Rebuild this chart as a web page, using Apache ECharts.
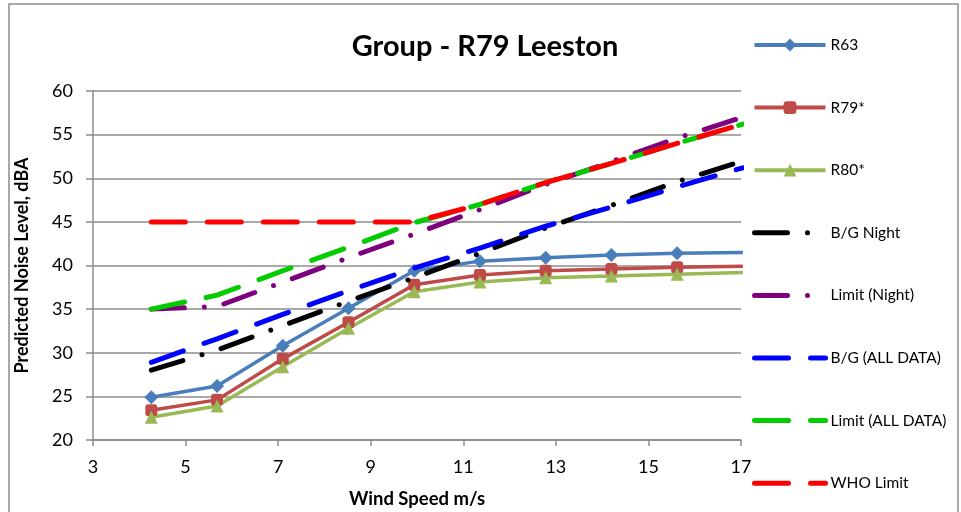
<!DOCTYPE html>
<html>
<head>
<meta charset="utf-8">
<script src="https://cdn.jsdelivr.net/npm/echarts@6/dist/echarts.min.js"></script>
<style>html,body{margin:0;padding:0;background:#fff}#c{width:961px;height:512px}</style>
</head>
<body>
<div id="c"></div>
<script>
var windSpeed = [4.26, 5.68, 7.1, 8.52, 9.94, 11.36, 12.78, 14.2, 15.62, 17.04];
var r63 = [24.9, 26.2, 30.8, 35.1, 39.4, 40.5, 40.9, 41.2, 41.4, 41.5];
var r79 = [23.4, 24.6, 29.3, 33.5, 37.8, 38.9, 39.4, 39.6, 39.8, 39.9];
var r80 = [22.6, 23.9, 28.4, 32.8, 37.0, 38.1, 38.6, 38.8, 39.0, 39.2];
var bgNight = [28.0, 30.3, 33.1, 35.9, 38.6, 41.4, 44.3, 46.9, 49.6, 52.0];
var limitNight = [35.0, 35.3, 38.1, 40.9, 43.6, 46.4, 49.3, 51.9, 54.6, 57.0];
var bgAll = [28.9, 31.6, 34.4, 37.1, 39.7, 42.0, 44.5, 46.7, 49.0, 51.2];
var limitAll = [35.0, 36.6, 39.4, 42.1, 44.9, 47.0, 49.5, 51.7, 54.0, 56.2];
var whoLimit = [45, 45, 45, 45, 45, 47.0, 49.5, 51.7, 54.0, 56.2];
var xTicks = [3, 5, 7, 9, 11, 13, 15, 17];
var yTicks = [20, 25, 30, 35, 40, 45, 50, 55, 60];
var seriesNames = ['R63', 'R79*', 'R80*', 'B/G Night', 'Limit (Night)', 'B/G (ALL DATA)', 'Limit (ALL DATA)', 'WHO Limit'];

function pts(ys) { return windSpeed.map(function (x, i) { return [x, ys[i]]; }); }

var FONT = 'Lato';
var dashLong = [34, 22];
var dashDot = [33, 20, 0.01, 20];

function markerSeries(name, data, color, symbol, size) {
  return {
    name: name, type: 'line', data: pts(data), symbol: symbol, symbolSize: size,
    showAllSymbol: true,
    lineStyle: { color: color, width: 3.5 }, itemStyle: { color: color },
    emphasis: { disabled: true }, z: 2
  };
}
function dashSeries(name, data, color, dash) {
  return {
    name: name, type: 'line', data: pts(data), symbol: 'none',
    lineStyle: { color: color, width: 5, type: dash, cap: 'round' },
    itemStyle: { color: color },
    emphasis: { disabled: true }, z: 3
  };
}

var legendData = seriesNames.map(function (n, i) {
  if (i < 3) return { name: n, lineStyle: { width: 4 } };
  return { name: n, itemStyle: { opacity: 0 }, lineStyle: { width: 5 } };
});

var chart = echarts.init(document.getElementById('c'), null, { renderer: 'canvas' });
chart.setOption({
  animation: false,
  backgroundColor: '#fff',
  title: {
    text: 'Group - R79 Leeston', left: 480, top: 27, textAlign: 'center',
    textStyle: { fontFamily: FONT, fontSize: 29, fontWeight: 'bold', color: '#000' }
  },
  graphic: [{
    type: 'rect', shape: { x: 9, y: 4, width: 949, height: 530 },
    style: { fill: 'none', stroke: '#8c8c8c', lineWidth: 1.5 }, silent: true
  }],
  legend: {
    orient: 'vertical', left: 752, top: 37, padding: 0,
    itemWidth: 71, itemHeight: 16, itemGap: 46.6,
    textStyle: { fontFamily: FONT, fontSize: 15.5, color: '#000' },
    data: legendData
  },
  grid: { left: 93, right: 220, top: 91, bottom: 72, containLabel: false, outerBoundsMode: 'none' },
  xAxis: {
    type: 'value', min: xTicks[0], max: xTicks[xTicks.length - 1], interval: 2,
    name: 'Wind Speed m/s', nameLocation: 'middle', nameGap: 50,
    nameTextStyle: { fontFamily: FONT, fontSize: 18.5, fontWeight: 'bold', color: '#000' },
    axisLine: { lineStyle: { color: '#8c8c8c', width: 1.5 } },
    axisTick: { show: true, length: 6, lineStyle: { color: '#8c8c8c', width: 1.5 } },
    axisLabel: { fontFamily: FONT, fontSize: 18, color: '#000', margin: 18 },
    splitLine: { show: false }
  },
  yAxis: {
    type: 'value', min: yTicks[0], max: yTicks[yTicks.length - 1], interval: 5,
    name: 'Predicted Noise Level, dBA', nameLocation: 'middle', nameGap: 62,
    nameTextStyle: { fontFamily: FONT, fontSize: 18, fontWeight: 'bold', color: '#000' },
    axisLine: { show: true, lineStyle: { color: '#8c8c8c', width: 1.5 } },
    axisTick: { show: true, length: 7, lineStyle: { color: '#8c8c8c', width: 1.5 } },
    axisLabel: { fontFamily: FONT, fontSize: 18, color: '#000', margin: 20 },
    splitLine: { show: true, lineStyle: { color: '#8c8c8c', width: 1.5 } }
  },
  series: [
    markerSeries(seriesNames[0], r63, '#4A7EBB', 'diamond', 14),
    markerSeries(seriesNames[1], r79, '#BE4B48', 'roundRect', 12),
    markerSeries(seriesNames[2], r80, '#98B954', 'triangle', 13),
    dashSeries(seriesNames[3], bgNight, '#000000', dashDot),
    dashSeries(seriesNames[4], limitNight, '#7F007F', dashDot),
    dashSeries(seriesNames[5], bgAll, '#0000FF', dashLong),
    dashSeries(seriesNames[6], limitAll, '#00CC00', dashLong),
    dashSeries(seriesNames[7], whoLimit, '#FF0000', dashLong)
  ]
});
</script>
</body>
</html>
